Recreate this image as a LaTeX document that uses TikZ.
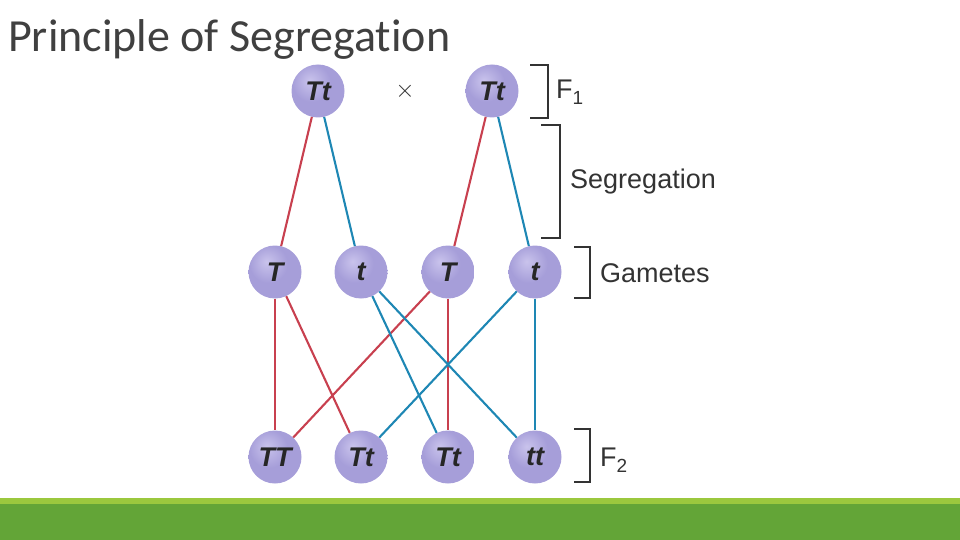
\documentclass[tikz,border=0pt]{standalone}
\usepackage{fontspec}
\setmainfont{Liberation Sans}
\newfontfamily\titlefont[Ligatures=NoCommon]{Carlito}
\definecolor{lavlight}{HTML}{C9C3EC}
\definecolor{lavmid}{HTML}{A69ED9}
\definecolor{lavdark}{HTML}{8A80C2}
\definecolor{allelered}{HTML}{C8404F}
\definecolor{alleleblue}{HTML}{1E87B4}
\definecolor{barlight}{HTML}{9BC83E}
\definecolor{bardark}{HTML}{63A537}
\definecolor{inkgray}{HTML}{333333}
\definecolor{titlegray}{HTML}{404040}
\pgfdeclareradialshading{lavball}{\pgfpoint{-8bp}{10bp}}{color(0bp)=(lavlight); color(18bp)=(lavmid); color(42bp)=(lavmid); color(60bp)=(lavdark); color(80bp)=(lavdark)}
\begin{document}
\begin{tikzpicture}[x=1pt,y=-1pt,
  allele/.style={circle, minimum size=53pt, inner sep=0pt, shading=lavball,
    font=\fontsize{27}{27}\selectfont\bfseries\itshape, text=black!85},
  redline/.style={draw=allelered, line width=2.1pt},
  blueline/.style={draw=alleleblue, line width=2.1pt},
  bracket/.style={draw=inkgray, line width=1.2pt},
  lab/.style={anchor=west, inner sep=0pt, font=\fontsize{27}{27}\selectfont, text=inkgray}]
\useasboundingbox (0,0) rectangle (960,540);
% title
\node[anchor=base west, inner sep=0pt, font=\titlefont\fontsize{46}{46}\selectfont, text=titlegray] (title) at (8,52) {Principle of Segregation};
% nodes
\node[allele] (p1) at (318,91) {Tt};
\node[allele] (p2) at (492,91) {Tt};
\node[font=\fontsize{30}{30}\selectfont, text=inkgray] (cross) at (405,91) {$\times$};
\node[allele] (g1) at (275,272) {T};
\node[allele] (g2) at (361,272) {t};
\node[allele] (g3) at (448,272) {T};
\node[allele] (g4) at (535,272) {t};
\node[allele] (o1) at (275,457) {TT};
\node[allele] (o2) at (361,457) {Tt};
\node[allele] (o3) at (448,457) {Tt};
\node[allele] (o4) at (535,457) {tt};
% connectors
\draw[redline] (p1) -- (g1);
\draw[blueline] (p1) -- (g2);
\draw[redline] (p2) -- (g3);
\draw[blueline] (p2) -- (g4);
\draw[redline] (g1) -- (o1);
\draw[redline] (g1) -- (o2);
\draw[redline] (g3) -- (o1);
\draw[redline] (g3) -- (o3);
\draw[blueline] (g2) -- (o3);
\draw[blueline] (g2) -- (o4);
\draw[blueline] (g4) -- (o2);
\draw[blueline] (g4) -- (o4);
% brackets
\draw[bracket] (530,65) -- (548,65) -- (548,118) -- (530,118);
\draw[bracket] (541,125) -- (560,125) -- (560,238) -- (541,238);
\draw[bracket] (574,247) -- (590,247) -- (590,298) -- (574,298);
\draw[bracket] (574,429) -- (590,429) -- (590,482) -- (574,482);
% labels
\node[lab] (lf1) at (556,92) {F\raisebox{-0.45ex}{\fontsize{19}{19}\selectfont 1}};
\node[lab] (lseg) at (570,182) {Segregation};
\node[lab] (lgam) at (600,273) {Gametes};
\node[lab] (lf2) at (600,460) {F\raisebox{-0.45ex}{\fontsize{19}{19}\selectfont 2}};
% footer bars
\fill[barlight] (0,498) rectangle (960,504);
\fill[bardark] (0,504) rectangle (960,540);
\end{tikzpicture}
\end{document}
